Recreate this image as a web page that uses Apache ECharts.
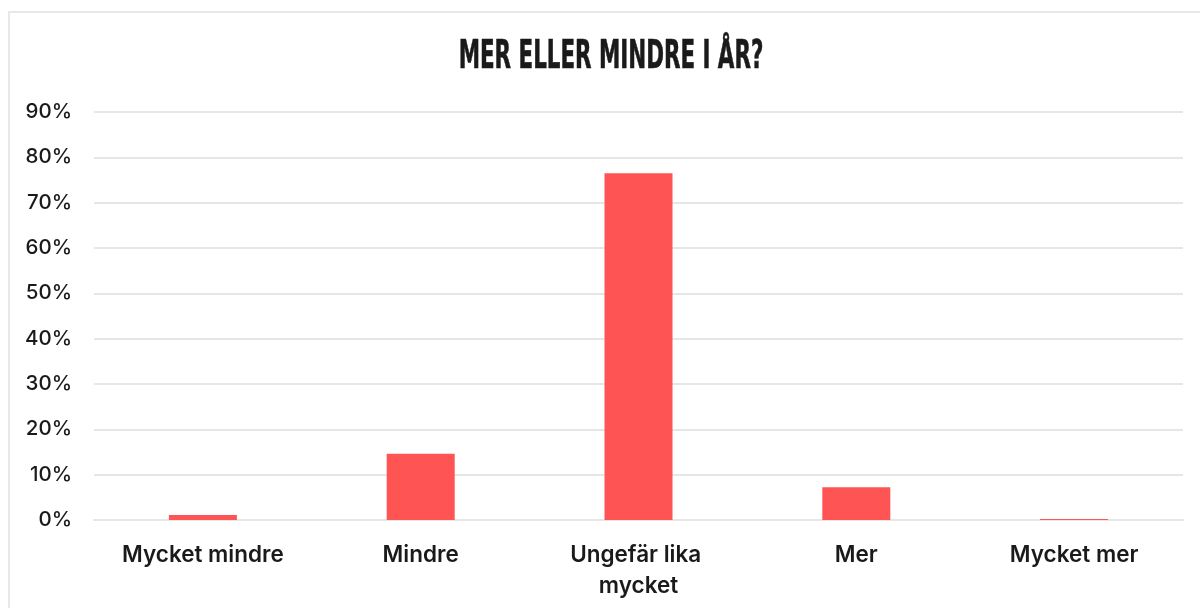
<!DOCTYPE html>
<html>
<head>
<meta charset="utf-8">
<script src="https://cdn.jsdelivr.net/npm/echarts@6/dist/echarts.min.js"></script>
<style>
    html, body {
        margin: 0;
        padding: 0;
        background: #fff;
    }
    #frame {
        position: absolute;
        left: 8px;
        top: 11px;
        width: 1300px;
        height: 700px;
        border: 2px solid #e8e8e8;
        box-sizing: border-box;
    }
    #myChart {
        position: absolute;
        left: 0;
        top: 0;
        width: 1200px;
        height: 608px;
    }
</style>
</head>
<body>
<div id="frame"></div>
<div id="myChart"></div>
<script>
    // chart data
    var categories = ['Mycket mindre', 'Mindre', 'Ungefär lika mycket', 'Mer', 'Mycket mer']
    var values = [1.1, 14.6, 76.5, 7.2, 0.2]
    var titleText = 'MER ELLER MINDRE I ÅR?'

    var myChart = echarts.init(document.getElementById('myChart'))

    myChart.setOption({
        animation: false,
        grid: {
            left: 94,
            right: 17,
            top: 112,
            bottom: 88
        },
        graphic: [{
            type: 'text',
            x: 611,
            y: 58,
            scaleX: 0.61,
            style: {
                text: titleText,
                textAlign: 'center',
                textVerticalAlign: 'middle',
                fontFamily: 'DejaVu Sans Condensed',
                fontWeight: 'bold',
                fontSize: 39,
                fill: '#1a1a1a',
                stroke: '#1a1a1a',
                lineWidth: 0.6
            }
        }],
        xAxis: {
            type: 'category',
            data: categories,
            axisLine: {
                lineStyle: { color: '#e6e6e6', width: 2 }
            },
            axisTick: { show: false },
            axisLabel: {
                interval: 0,
                margin: 20,
                color: '#1a1a1a',
                fontFamily: 'Inter',
                fontWeight: 600,
                fontSize: 22.5,
                lineHeight: 31,
                width: 180,
                overflow: 'break'
            }
        },
        yAxis: {
            type: 'value',
            min: 0,
            max: 90,
            interval: 10,
            axisLine: { show: false },
            axisTick: { show: false },
            splitLine: {
                lineStyle: { color: '#e6e6e6', width: 2 }
            },
            axisLabel: {
                margin: 22,
                formatter: '{value}%',
                color: '#1a1a1a',
                fontFamily: 'Inter',
                fontWeight: 500,
                fontSize: 20.5
            }
        },
        series: [{
            type: 'bar',
            data: values,
            barWidth: 68,
            itemStyle: { color: '#ff5454' }
        }]
    })
</script>
</body>
</html>
